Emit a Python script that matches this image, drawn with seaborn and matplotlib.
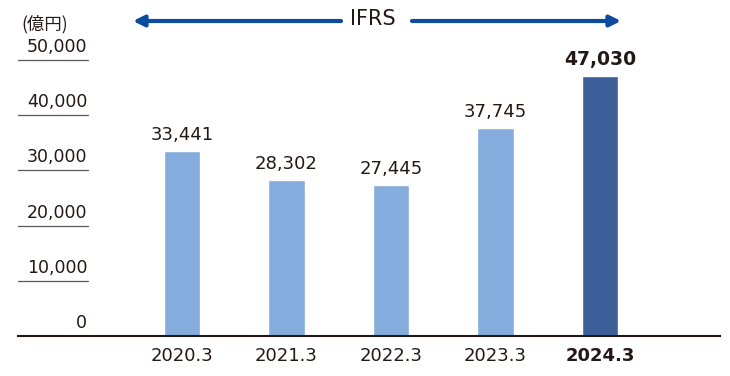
import numpy as np
import pandas as pd
import seaborn as sns
import matplotlib.pyplot as plt

periods = ['2020.3', '2021.3', '2022.3', '2023.3', '2024.3']
revenue = [33441, 28302, 27445, 37745, 47030]
bar_colors = ['#84acdc', '#84acdc', '#84acdc', '#84acdc', '#3d5f99']
yticks = [0, 10000, 20000, 30000, 40000, 50000]
unit_label = '(億円)'
arrow_label = 'IFRS'

W, H = 730, 376
sns.set_style('white')
plt.rcParams['font.family'] = ['DejaVu Sans']
txt = '#231815'

fig = plt.figure(figsize=(W / 100, H / 100), dpi=100)
# axes: x 18..720 px, baseline at 336 px, top of figure at 0 px
base = 336
px50k = 276  # pixels for 50,000
ax = fig.add_axes([18 / W, (H - base) / H, 702 / W, base / H])
per_px = 50000 / px50k

df = pd.DataFrame({'period': periods, 'revenue': revenue})
sns.barplot(data=df, x='period', y='revenue', hue='period', palette=bar_colors,
            legend=False, width=0.35, saturation=1, ax=ax)

ax.set_xlim(-1.569, 5.148)
ax.set_ylim(0, base * per_px)
ax.set_xlabel('')
ax.set_ylabel('')
ax.set_yticks([])
for s in ['top', 'right', 'left']:
    ax.spines[s].set_visible(False)
ax.spines['bottom'].set_color('#231815')
ax.spines['bottom'].set_linewidth(1.5)

# short gridlines with labels above them
gx = 70 / 702
for v in yticks:
    if v > 0:
        ax.axhline(v, xmin=0, xmax=gx, color='#595757', lw=0.9)
    ax.text(gx - 0.001, v + 4 * per_px, f'{v:,}', transform=ax.get_yaxis_transform(),
            ha='right', va='bottom', fontsize=12.5, color=txt)

# x tick labels
ax.set_xticks(range(len(periods)))
ax.set_xticklabels(periods, fontsize=13, color=txt)
ax.tick_params(axis='x', length=0, pad=8)
ax.get_xticklabels()[-1].set_fontweight('bold')

# value labels
for i, v in enumerate(revenue):
    bold = i == len(revenue) - 1
    ax.text(i, v + 7 * per_px, f'{v:,}', ha='center', va='bottom', fontsize=13.5 if bold else 13,
            fontweight='bold' if bold else 'normal', color=txt)

fig.text(21 / W, 1 - 24 / H, unit_label, ha='left', va='center', fontsize=12.5, color=txt,
         family=['Noto Sans CJK JP', 'DejaVu Sans'])

# IFRS arrow
ay = 1 - 21 / H
fig.text(373 / W, 1 - 19 / H, arrow_label, ha='center', va='center', fontsize=15, color=txt)
arrow = dict(arrowstyle='-|>', color='#0b4a9e', lw=3, mutation_scale=16, shrinkA=0, shrinkB=0)
ax.annotate('', xy=(133 / W, ay), xytext=(341 / W, ay), xycoords='figure fraction', arrowprops=arrow)
ax.annotate('', xy=(621 / W, ay), xytext=(412 / W, ay), xycoords='figure fraction', arrowprops=arrow)

fig.savefig('out.png', dpi=100)
